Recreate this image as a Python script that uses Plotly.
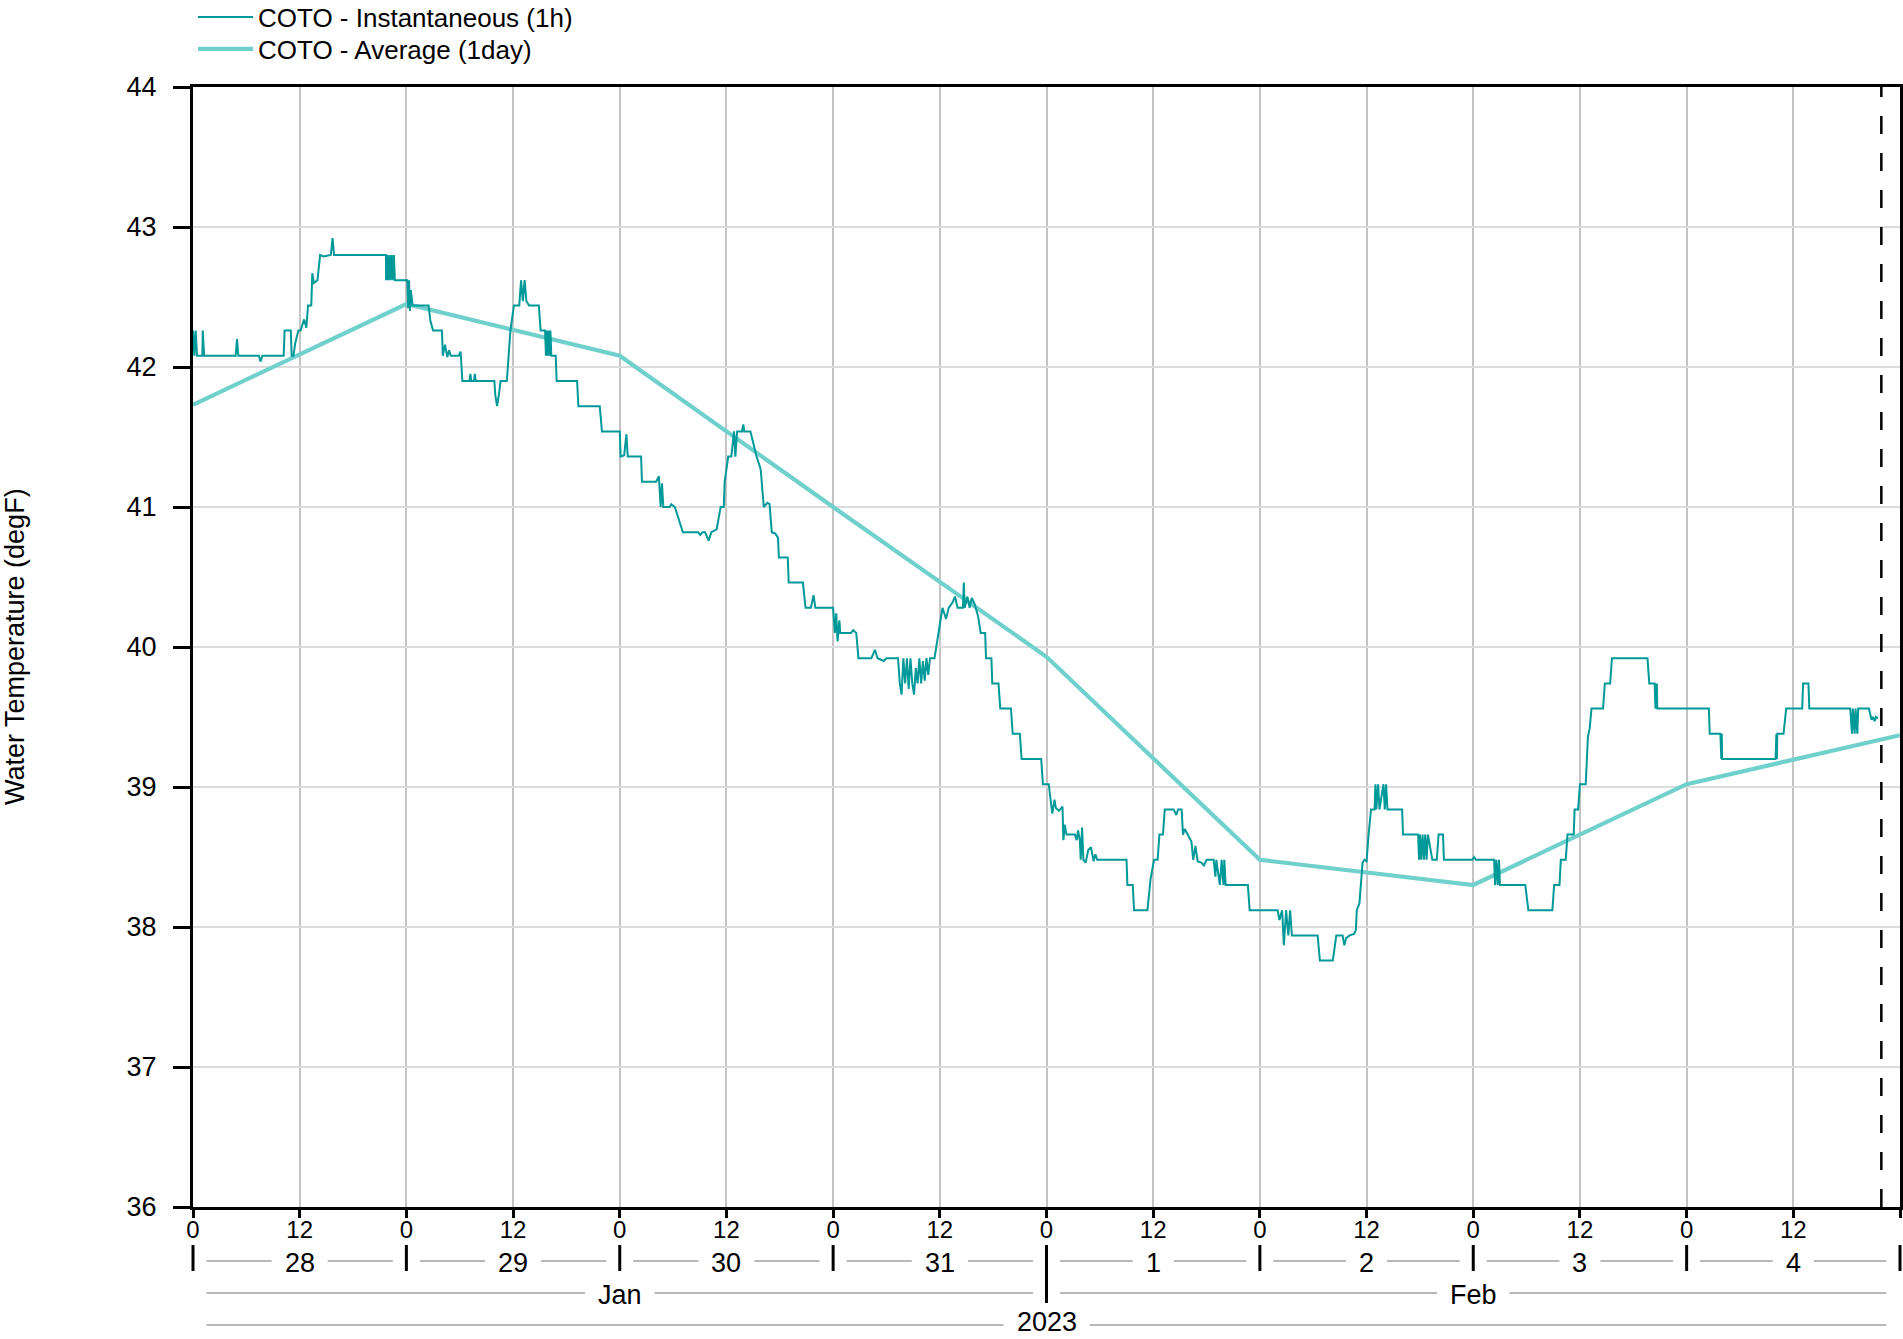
import pandas as pd
import plotly.graph_objects as go

# ---------------- data ----------------
BASE = "2023-01-28 00:00"

# instantaneous (1h) series: hours since BASE and values (degF)
inst_hours = [
    0.0, 0.15, 0.3, 0.45, 1.05, 1.1, 1.25, 4.8, 4.95, 5.1, 7.4, 7.6, 7.8, 10.2, 10.3, 11.0, 11.1, 11.3, 11.5, 11.85,
    12.1, 12.5, 12.75, 12.94, 13.3, 13.42, 13.6, 14.0, 14.3, 14.7, 15.5, 15.7, 15.86, 21.7, 21.72, 21.85, 21.95, 22.1,
    22.2, 22.35, 22.45, 22.6, 22.7, 24.1, 24.2, 24.3, 24.4, 24.5, 24.7, 26.5, 26.7, 27.0, 28.0, 28.1, 28.35, 28.6,
    28.8, 29.0, 29.9, 30.1, 30.3, 31.1, 31.2, 31.3, 31.6, 31.7, 31.8, 33.9, 34.0, 34.2, 34.4, 34.6, 35.3, 35.5, 35.7,
    36.1, 36.7, 36.9, 37.1, 37.3, 37.5, 37.8, 38.9, 39.1, 39.6, 39.7, 39.8, 39.9, 40.0, 40.1, 40.2, 40.3, 40.8, 40.9,
    43.2, 43.35, 45.75, 46.0, 48.0,
    48.1, 48.5, 48.75, 48.9, 50.4, 50.5, 51.9, 52.1, 52.4, 52.6, 52.75, 52.9, 53.6, 53.8, 54.2, 54.55, 54.85, 55.1,
    56.8, 57.06, 57.3, 57.6, 58.0, 58.3, 58.9, 59.2, 59.35, 59.7, 59.8, 60.2, 60.55, 60.85, 61.0, 61.2, 61.75, 61.9,
    62.0, 62.7, 63.0, 63.35, 63.85, 64.2, 64.6, 64.85, 65.1, 65.5, 65.8, 65.9, 66.9, 67.0, 68.6, 68.9, 69.5, 69.8,
    70.0, 72.0,
    72.2, 72.35, 72.5, 72.7, 72.8, 74.0, 74.25, 74.6, 74.85, 76.3, 76.7, 77.0, 77.7, 78.0, 79.3, 79.5, 79.7, 79.9,
    80.1, 80.3, 80.5, 80.7, 80.9, 81.1, 81.3, 81.5, 81.7, 81.9, 82.1, 82.3, 82.5, 82.7, 82.9, 83.4, 83.85, 84.3, 84.7,
    85.0, 85.45, 85.7, 86.0, 86.6, 86.7, 86.8, 87.1, 87.35, 87.6, 87.9, 88.3, 88.6, 89.1, 89.2, 89.8, 89.9, 90.6,
    90.8, 92.0, 92.2, 93.0, 93.2, 95.4, 95.6,
    96.25, 96.45, 96.65, 96.9, 97.05, 97.4, 97.8, 97.9, 98.05, 98.25, 99.2, 99.4, 99.55, 99.75, 99.85, 100.0, 100.15,
    100.4, 100.7, 101.0, 101.3, 101.5, 101.7, 105.0, 105.1, 105.7, 105.85, 107.35, 107.7, 108.1, 108.5, 108.7, 109.1,
    109.3, 110.3, 110.6, 110.8, 111.2, 111.35, 111.55, 112.0, 112.3, 112.5, 112.75, 113.0, 113.4, 113.7, 114.0, 114.8,
    115.0, 115.1, 115.5, 115.7, 115.9, 116.0, 116.15, 118.65, 118.85, 120.0,
    122.0, 122.2, 122.5, 122.7, 122.95, 123.2, 123.4, 123.6, 126.5, 126.75, 128.2, 128.6, 129.3, 129.5, 129.7, 130.1,
    130.6, 130.8, 130.9, 131.2, 131.35, 131.55, 131.75, 132.0, 132.2, 132.5, 132.9, 133.0, 133.1, 133.3, 133.45, 133.9,
    134.05, 134.2, 134.35, 136.0, 136.1, 137.8, 137.9, 138.0, 138.15, 138.3, 138.45, 138.6, 138.75, 138.9, 139.4,
    139.9, 140.1, 140.6, 140.7, 143.9, 144.1,
    144.3, 146.35, 146.45, 146.6, 146.75, 146.9, 147.0, 149.85, 150.2, 152.9, 153.1, 153.7, 153.85, 154.4, 154.6,
    155.3, 155.4, 155.8, 156.0, 156.65, 156.9, 157.1, 157.3, 158.6, 158.8, 159.4, 159.6, 163.6, 163.8, 164.4, 164.5,
    164.55, 164.6, 164.65, 164.7, 170.5, 170.6, 171.8, 171.9, 171.95, 172.0, 172.1, 178.0, 178.1, 178.15, 178.2,
    178.9, 179.2, 181.0, 181.1, 181.7, 181.8, 186.4, 186.6, 186.7, 186.9, 187.0, 187.2, 187.3, 188.5, 188.8, 188.95,
    189.15, 189.3, 189.5,
]
inst_values = [
    42.26, 42.08, 42.26, 42.08, 42.08, 42.26, 42.08, 42.08, 42.2, 42.08, 42.08, 42.04, 42.08, 42.08, 42.26, 42.26, 42.08,
    42.08, 42.17, 42.26,
    42.26, 42.34, 42.28, 42.44, 42.44, 42.67, 42.6, 42.62, 42.8, 42.79, 42.8, 42.92, 42.8, 42.8, 42.62, 42.8, 42.62, 42.8,
    42.62, 42.8, 42.62, 42.8, 42.62, 42.62, 42.42, 42.62, 42.4, 42.55, 42.44, 42.44, 42.33, 42.26, 42.26, 42.08, 42.16,
    42.07,
    42.12, 42.08, 42.08, 42.11, 41.9, 41.9, 41.95, 41.9, 41.9, 41.95, 41.9, 41.9, 41.8, 41.72, 41.8, 41.9, 41.9, 42.08,
    42.26,
    42.44, 42.44, 42.62, 42.47, 42.62, 42.47, 42.44, 42.44, 42.26, 42.26, 42.08, 42.26, 42.08, 42.26, 42.08, 42.26,
    42.08, 42.08, 41.9,
    41.9, 41.72, 41.72, 41.54, 41.54,
    41.36, 41.37, 41.52, 41.36, 41.36, 41.18, 41.18, 41.18, 41.22, 41.0, 41.17, 41.0, 41.0, 41.02, 41.0, 40.93, 40.88,
    40.82,
    40.82, 40.8, 40.82, 40.82, 40.76, 40.82, 40.84, 40.93, 41.0, 41.0, 41.18, 41.36, 41.36, 41.54, 41.36, 41.54, 41.54,
    41.59,
    41.54, 41.54, 41.45, 41.37, 41.27, 41.0, 41.03, 41.02, 40.82, 40.81, 40.78, 40.64, 40.64, 40.46, 40.46, 40.28, 40.28,
    40.37,
    40.28, 40.28,
    40.1, 40.24, 40.04, 40.19, 40.1, 40.1, 40.12, 40.1, 39.92, 39.92, 39.98, 39.92, 39.9, 39.92, 39.92, 39.74, 39.66,
    39.92,
    39.74, 39.92, 39.7, 39.92, 39.74, 39.66, 39.85, 39.74, 39.92, 39.74, 39.9, 39.76, 39.92, 39.8, 39.92, 39.92, 40.1,
    40.28, 40.2,
    40.28, 40.32, 40.36, 40.28, 40.28, 40.46, 40.28, 40.36, 40.28, 40.35, 40.31, 40.22, 40.1, 40.1, 39.92, 39.92, 39.74,
    39.74,
    39.56, 39.56, 39.38, 39.38, 39.2, 39.2, 39.02,
    39.02, 38.89, 38.81, 38.91, 38.85, 38.83, 38.86, 38.62, 38.73, 38.66, 38.66, 38.62, 38.69, 38.62, 38.48, 38.71,
    38.48,
    38.46, 38.55, 38.57, 38.47, 38.52, 38.48, 38.48, 38.3, 38.3, 38.12, 38.12, 38.34, 38.48, 38.48, 38.66, 38.66,
    38.84, 38.84, 38.8, 38.84, 38.84, 38.66, 38.7, 38.64, 38.61, 38.48, 38.58, 38.47, 38.46, 38.44, 38.48, 38.48,
    38.36, 38.48, 38.3, 38.48, 38.3, 38.48, 38.3, 38.3, 38.12, 38.12,
    38.12, 38.05, 38.12, 37.87, 38.12, 37.94, 38.12, 37.94, 37.94, 37.76, 37.76, 37.94, 37.94, 37.87, 37.92, 37.94,
    37.95, 37.98, 38.12, 38.17, 38.3, 38.46, 38.48, 38.47, 38.64, 38.84, 38.84, 39.02, 38.84, 39.02, 38.84, 39.02,
    38.84, 39.02, 38.84, 38.84, 38.66, 38.66, 38.48, 38.66, 38.48, 38.66, 38.48, 38.66, 38.48, 38.66, 38.48,
    38.48, 38.66, 38.66, 38.48, 38.48, 38.5,
    38.48, 38.48, 38.3, 38.48, 38.3, 38.48, 38.3, 38.3, 38.12, 38.12, 38.3, 38.3, 38.48, 38.48, 38.66,
    38.66, 38.84, 38.84, 39.02, 39.02, 39.36, 39.42, 39.56, 39.56, 39.74, 39.74, 39.92, 39.92, 39.74, 39.74, 39.56,
    39.74, 39.56, 39.74, 39.56, 39.56, 39.38, 39.38, 39.2, 39.38, 39.2, 39.2, 39.2, 39.38, 39.2, 39.38,
    39.38, 39.56, 39.56, 39.74, 39.74, 39.56, 39.56, 39.38, 39.56, 39.38, 39.56, 39.38, 39.56, 39.56, 39.48, 39.5,
    39.47, 39.5, 39.49,
]

# daily average (1day): value at each midnight
avg_hours = [0, 24, 48, 72, 96, 120, 144, 168, 192]
avg_values = [41.73, 42.45, 42.08, 41.0, 39.93, 38.48, 38.30, 39.02, 39.37]

now_hour = 189.9

day_labels = ["28", "29", "30", "31", "1", "2", "3", "4"]
day_starts = [0, 24, 48, 72, 96, 120, 144, 168]
month_labels = ["Jan", "Feb"]
month_bounds = [(0, 96), (96, 192)]
year_labels = ["2023"]
year_bounds = [(0, 192)]

# ---------------- helpers ----------------
base = pd.Timestamp(BASE)


def t(h):
    return base + pd.Timedelta(hours=h)


inst_x = [t(h) for h in inst_hours]
avg_x = [t(h) for h in avg_hours]

W, H = 1903, 1339
ML, MR, MT, MB = 193, 3, 87, 132
PW = W - ML - MR
PH = H - MT - MB
px_per_hour = PW / 192.0


def py(ypix):  # figure pixel y -> paper y
    return (H - MB - ypix) / PH


FONT = "Liberation Sans, Arial, sans-serif"
LAB_SIZE = 27
INST_COLOR = "#009999"
AVG_COLOR = "#6fd0cc"
GRAY = "#b8b8b8"

# approximate glyph advance widths (em) for label/line spacing
CHAR_EM = {"J": 0.5, "a": 0.556, "n": 0.556, "F": 0.611, "e": 0.556, "b": 0.556}


def text_px(s):
    return sum(CHAR_EM.get(c, 0.556) for c in s) * LAB_SIZE


fig = go.Figure()
fig.add_trace(go.Scatter(x=avg_x, y=avg_values, mode="lines", name="COTO - Average (1day)",
                         line=dict(color=AVG_COLOR, width=4.2), legend="legend2"))
fig.add_trace(go.Scatter(x=inst_x, y=inst_values, mode="lines", name="COTO - Instantaneous (1h)",
                         line=dict(color=INST_COLOR, width=2), legend="legend"))

x_range = [t(0), t(192)]
shapes = []
annotations = []

# "now" dashed line
shapes.append(dict(type="line", xref="x", yref="y", x0=t(now_hour), x1=t(now_hour), y0=36, y1=44,
                   line=dict(color="black", width=2.5, dash="18px,19px"), layer="above"))

edge_gap_h = 13.5 / px_per_hour
label_gap_px = 13


def labelled_row(labels, bounds, y_line, y_text):
    for lab, (a, b) in zip(labels, bounds):
        c = (a + b) / 2
        half_h = (text_px(lab) / 2 + label_gap_px) / px_per_hour
        for x0, x1 in ((a + edge_gap_h, c - half_h), (c + half_h, b - edge_gap_h)):
            shapes.append(dict(type="line", xref="x", yref="paper", x0=t(x0), x1=t(x1),
                               y0=py(y_line), y1=py(y_line), line=dict(color=GRAY, width=2)))
        annotations.append(dict(x=t(c), y=py(y_text), xref="x", yref="paper", text=lab, showarrow=False,
                                font=dict(size=LAB_SIZE, family=FONT, color="black"), borderpad=0,
                                xanchor="center", yanchor="middle"))


labelled_row(day_labels, [(s, s + 24) for s in day_starts], 1261, 1263)
labelled_row(month_labels, month_bounds, 1293, 1295)
labelled_row(year_labels, year_bounds, 1325, 1322)

# day separators
for s in day_starts[1:]:
    y_bottom = py(1303) if s == 96 else py(1271)
    shapes.append(dict(type="line", xref="x", yref="paper", x0=t(s), x1=t(s), y0=py(1245), y1=y_bottom,
                       line=dict(color="black", width=3)))
for xd in (0, 1):
    shapes.append(dict(type="line", xref="x domain", yref="paper", x0=xd, x1=xd, y0=py(1245), y1=py(1271),
                       line=dict(color="black", width=3)))

# y axis title
annotations.append(dict(x=(15 - ML) / PW, y=0.5, xref="paper", yref="paper", text="Water Temperature (degF)",
                        textangle=-90, showarrow=False, font=dict(size=27, family=FONT, color="black"),
                        xanchor="center", yanchor="middle"))

leg_common = dict(x=0, xanchor="left", yanchor="middle", bgcolor="rgba(0,0,0,0)",
                  font=dict(size=26, family=FONT, color="black"), itemwidth=55, borderwidth=0)

fig.update_layout(
    width=W, height=H,
    margin=dict(l=ML, r=MR, t=MT, b=MB, autoexpand=False),
    paper_bgcolor="white", plot_bgcolor="white",
    font=dict(family=FONT, size=26, color="black"),
    showlegend=True,
    legend=dict(y=py(17), **leg_common),
    legend2=dict(y=py(49), **leg_common),
    xaxis=dict(type="date", range=x_range, tickmode="linear", tick0=t(0), dtick=12 * 3600 * 1000,
               tickformat="%-H", showgrid=True, gridcolor="#c4c4c4", gridwidth=2,
               showline=True, linecolor="black", linewidth=3, mirror=True,
               ticks="outside", ticklen=8, tickwidth=2.5, tickcolor="black", ticklabelstandoff=-9,
               tickfont=dict(size=24, family=FONT, color="black"), zeroline=False),
    xaxis2=dict(type="date", range=x_range, overlaying="x", anchor="y", side="bottom", matches="x",
                tickmode="linear", tick0=t(0), dtick=12 * 3600 * 1000, showgrid=False, showline=False,
                showticklabels=False, ticks="inside", ticklen=8, tickwidth=2.5, tickcolor="black",
                zeroline=False),
    yaxis=dict(range=[36, 44], tickmode="linear", tick0=36, dtick=1, showgrid=True, gridcolor="#dcdcdc",
               gridwidth=2, showline=True, linecolor="black", linewidth=3, mirror=True,
               ticks="outside", ticklen=17, tickwidth=2.5, tickcolor="black", ticklabelstandoff=11,
               tickfont=dict(size=27, family=FONT, color="black"), zeroline=False),
    shapes=shapes,
    annotations=annotations,
)

fig.write_html("out.html", config={"displayModeBar": False},
               post_script="document.body.style.margin='0px';")
